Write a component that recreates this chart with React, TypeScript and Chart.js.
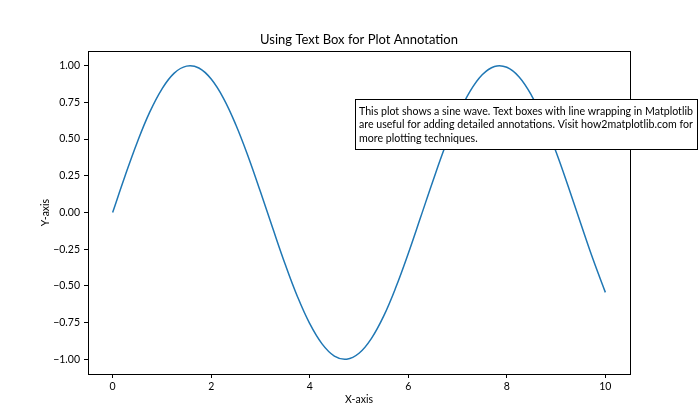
import React, { useEffect, useRef } from "react";
import { Chart, registerables } from "chart.js";

Chart.register(...registerables);

const TITLE = "Using Text Box for Plot Annotation";
const X_LABEL = "X-axis";
const Y_LABEL = "Y-axis";

const X_VALUES = [
  0, 0.25, 0.5, 0.75, 1, 1.25, 1.5, 1.75, 2, 2.25, 2.5, 2.75, 3, 3.25, 3.5, 3.75, 4, 4.25, 4.5, 4.75,
  5, 5.25, 5.5, 5.75, 6, 6.25, 6.5, 6.75, 7, 7.25, 7.5, 7.75, 8, 8.25, 8.5, 8.75, 9, 9.25, 9.5, 9.75, 10,
];
const Y_VALUES = [
  0, 0.247, 0.479, 0.682, 0.841, 0.949, 0.997, 0.984, 0.909, 0.778, 0.598, 0.382, 0.141, -0.108, -0.351,
  -0.572, -0.757, -0.895, -0.978, -0.999, -0.959, -0.859, -0.706, -0.508, -0.279, -0.033, 0.215, 0.451,
  0.657, 0.823, 0.938, 0.995, 0.989, 0.923, 0.798, 0.625, 0.412, 0.174, -0.075, -0.319, -0.544,
];

const X_TICKS = [0, 2, 4, 6, 8, 10];
const Y_TICKS = [-1, -0.75, -0.5, -0.25, 0, 0.25, 0.5, 0.75, 1];

const NOTE_LINES = [
  "This plot shows a sine wave. Text boxes with line wrapping in Matplotlib",
  "are useful for adding detailed annotations. Visit how2matplotlib.com for",
  "more plotting techniques.",
];
const NOTE_X = 5;
const NOTE_Y = 0.75;

const FONT = "Lato, 'Open Sans', sans-serif";
const LINE_COLOR = "#1f77b4";

const fmtY = (v: number) => {
  const s = Math.abs(v).toFixed(2);
  return v < 0 ? "\u2212" + s : s;
};

const decorPlugin = {
  id: "decor",
  afterDraw(chart: any) {
    const { ctx, chartArea, scales } = chart;
    ctx.save();
    ctx.strokeStyle = "#000";
    ctx.lineWidth = 1;
    ctx.strokeRect(
      Math.round(chartArea.left) + 0.5,
      Math.round(chartArea.top) + 0.5,
      Math.round(chartArea.right - chartArea.left),
      Math.round(chartArea.bottom - chartArea.top)
    );
    ctx.fillStyle = "#000";
    ctx.font = `13px ${FONT}`;
    ctx.textAlign = "center";
    ctx.textBaseline = "middle";
    ctx.fillText(TITLE, (chartArea.left + chartArea.right) / 2, 40);

    // annotation box
    ctx.font = `11px ${FONT}`;
    let w = 0;
    NOTE_LINES.forEach((l) => (w = Math.max(w, ctx.measureText(l).width)));
    const size = Math.min(13, (11 * 334) / w);
    ctx.font = `${size.toFixed(2)}px ${FONT}`;
    w = 0;
    NOTE_LINES.forEach((l) => (w = Math.max(w, ctx.measureText(l).width)));
    const lineH = 13.7;
    const pad = 4;
    const tx = scales.x.getPixelForValue(NOTE_X);
    const ty = scales.y.getPixelForValue(NOTE_Y);
    const bx = Math.round(tx - pad) + 0.5;
    const by = Math.round(ty - pad + 1) + 0.5;
    const bw = Math.round(w + 2 * pad);
    const bh = Math.round(NOTE_LINES.length * lineH + 2 * pad + 1);
    ctx.fillStyle = "#fff";
    ctx.fillRect(bx, by, bw, bh);
    ctx.strokeStyle = "#000";
    ctx.strokeRect(bx, by, bw, bh);
    ctx.fillStyle = "#000";
    ctx.textAlign = "left";
    ctx.textBaseline = "middle";
    NOTE_LINES.forEach((l, i) => ctx.fillText(l, tx, ty + 2 + lineH / 2 + i * lineH));
    ctx.restore();
  },
};

export default function App() {
  const ref = useRef<HTMLCanvasElement>(null);
  useEffect(() => {
    if (!ref.current) return;
    const chart = new Chart(ref.current, {
      type: "line",
      data: {
        datasets: [
          {
            data: X_VALUES.map((x, i) => ({ x, y: Y_VALUES[i] })),
            borderColor: LINE_COLOR,
            borderWidth: 1.5,
            pointRadius: 0,
            tension: 0.4,
            fill: false,
          },
        ],
      },
      options: {
        animation: false,
        responsive: false,
        devicePixelRatio: 1,
        layout: { padding: { top: 51, right: 70, left: 0, bottom: 0 } },
        plugins: { legend: { display: false }, tooltip: { enabled: false }, title: { display: false } },
        scales: {
          x: {
            type: "linear",
            min: -0.5,
            max: 10.5,
            afterFit: (a: any) => {
              a.height = 46;
            },
            afterBuildTicks: (a: any) => {
              a.ticks = X_TICKS.map((v) => ({ value: v }));
            },
            ticks: {
              color: "#000",
              font: { family: FONT, size: 10.5 },
              padding: 2,
              maxRotation: 0,
              callback: (v: any) => String(v),
            },
            grid: { display: true, drawOnChartArea: false, drawTicks: true, tickLength: 4, color: "#000" },
            border: { display: true, color: "#000", width: 1 },
            title: {
              display: true,
              text: X_LABEL,
              color: "#000",
              font: { family: FONT, size: 10.5 },
              padding: { top: 0, bottom: 14 },
            },
          },
          y: {
            type: "linear",
            min: -1.1,
            max: 1.1,
            afterFit: (a: any) => {
              a.width = 88;
            },
            afterBuildTicks: (a: any) => {
              a.ticks = Y_TICKS.map((v) => ({ value: v }));
            },
            ticks: {
              color: "#000",
              font: { family: FONT, size: 10.5 },
              padding: 4,
              callback: (v: any) => fmtY(Number(v)),
            },
            grid: { display: true, drawOnChartArea: false, drawTicks: true, tickLength: 4, color: "#000" },
            border: { display: true, color: "#000", width: 1 },
            title: {
              display: true,
              text: Y_LABEL,
              color: "#000",
              font: { family: FONT, size: 10.5 },
              padding: { top: 39, bottom: 0 },
            },
          },
        },
      },
      plugins: [decorPlugin],
    } as any);
    return () => chart.destroy();
  }, []);
  return (
    <div style={{ position: "absolute", left: 0, top: 0, width: 700, height: 420, background: "#fff" }}>
      <canvas ref={ref} width={700} height={420} style={{ display: "block" }} />
    </div>
  );
}
